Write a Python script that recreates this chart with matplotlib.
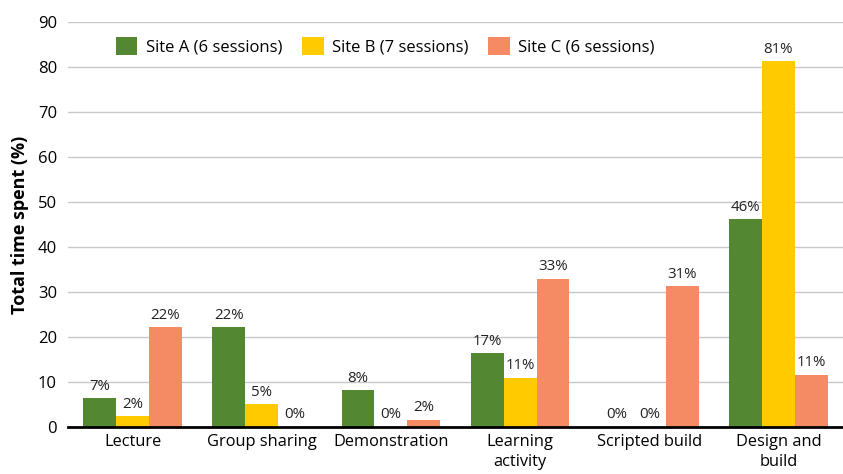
import numpy as np
import matplotlib.pyplot as plt

plt.rcParams['font.family'] = ['Open Sans', 'DejaVu Sans']

# Data
categories = ["Lecture", "Group sharing", "Demonstration", "Learning\nactivity",
              "Scripted build", "Design and\nbuild"]
site_a = [6.4, 22.2, 8.2, 16.4, 0.0, 46.2]
site_b = [2.4, 5.1, 0.0, 10.9, 0.0, 81.3]
site_c = [22.2, 0.0, 1.6, 32.9, 31.3, 11.6]
labels_a = ["7%", "22%", "8%", "17%", "0%", "46%"]
labels_b = ["2%", "5%", "0%", "11%", "0%", "81%"]
labels_c = ["22%", "0%", "2%", "33%", "31%", "11%"]
series_names = ["Site A (6 sessions)", "Site B (7 sessions)", "Site C (6 sessions)"]
colors = ["#538731", "#FFCA00", "#F58B65"]

fig = plt.figure(figsize=(8.43, 4.74), dpi=100)
ax = fig.add_axes([68 / 843, 1 - 427 / 474, 1 - 68 / 843, (427 - 22) / 474])

x = np.arange(len(categories))
w = 0.255
for i, (vals, labs, name, col) in enumerate(zip([site_a, site_b, site_c],
                                                [labels_a, labels_b, labels_c],
                                                series_names, colors)):
    xs = x + (i - 1) * w
    ax.bar(xs, vals, width=w, color=col, label=name, zorder=3)
    for xi, v, t in zip(xs, vals, labs):
        ax.text(xi, v + 1.0, t, ha='center', va='bottom', fontsize=10.8, color='#222222')

ax.set_xlim(-0.5, len(categories) - 0.5)
ax.set_ylim(0, 90)
ax.set_yticks(np.arange(0, 91, 10))
ax.set_xticks(x)
ax.set_xticklabels(categories, fontsize=11.8, linespacing=1.35)
ax.tick_params(axis='y', length=0, labelsize=12, pad=8)
ax.tick_params(axis='x', length=0, pad=5)
ax.grid(axis='y', color='#c8c8c8', linewidth=1, zorder=0)
for s in ['top', 'right', 'left']:
    ax.spines[s].set_visible(False)
ax.spines['bottom'].set_linewidth(2)
ax.spines['bottom'].set_color('black')
ax.spines['bottom'].set_zorder(4)

ax.set_ylabel("Total time spent (%)", fontsize=13, fontweight='bold', labelpad=6)

ax.legend(loc='upper left', bbox_to_anchor=(0.042, 1.0), ncol=3, frameon=False,
          fontsize=12, handlelength=1.3, handleheight=1.3, columnspacing=1.2,
          handletextpad=0.5)

fig.savefig("out.png", dpi=100)
